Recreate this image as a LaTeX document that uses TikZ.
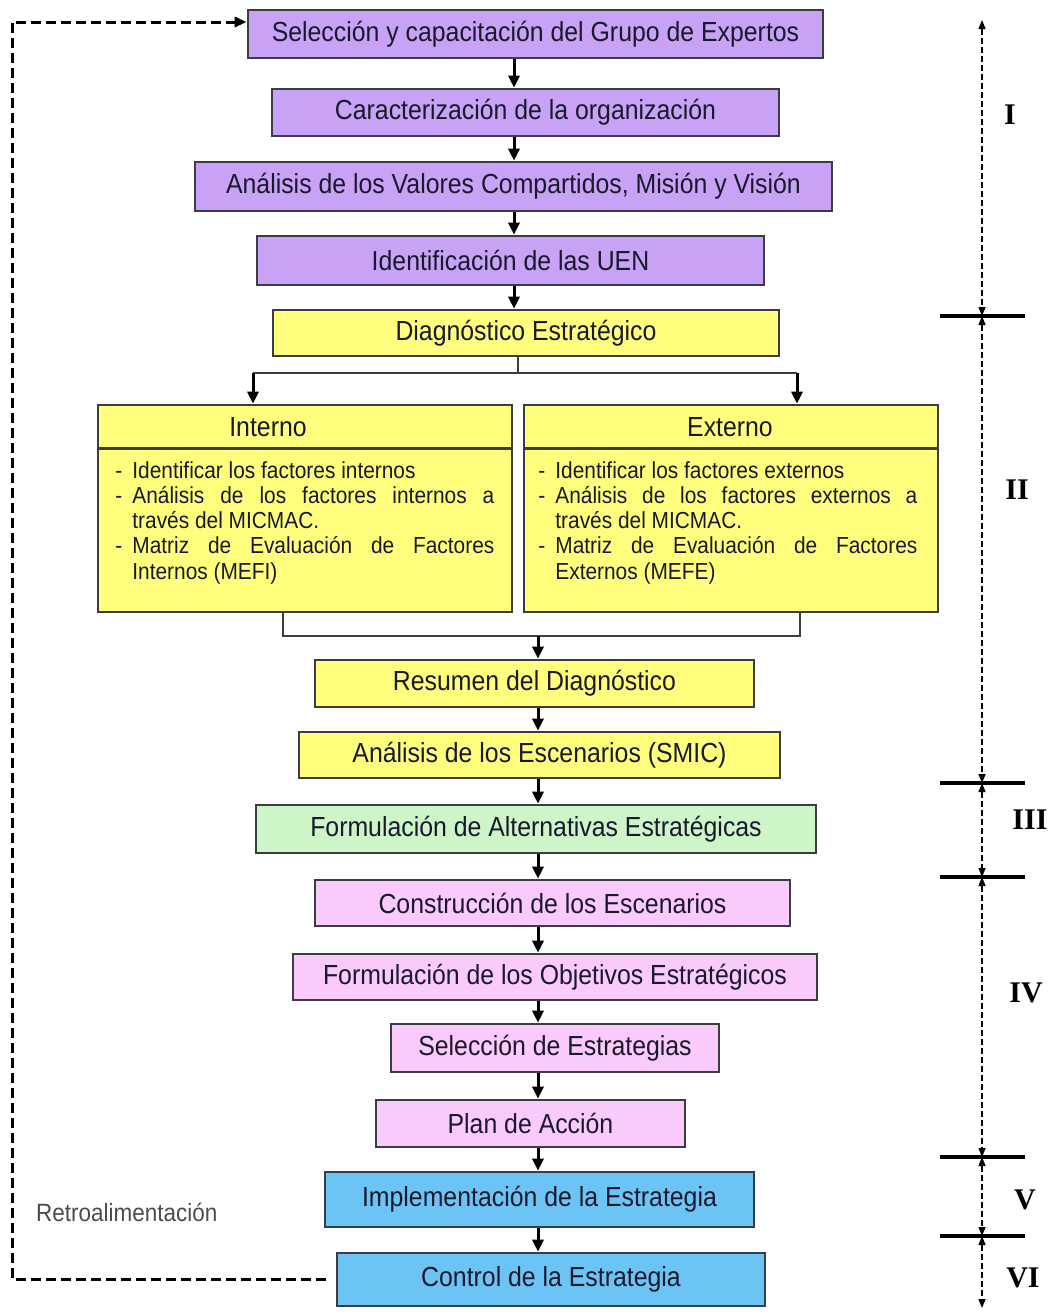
\documentclass[tikz,border=0pt]{standalone}
\usepackage{fontspec}
\setmainfont{Liberation Sans}[FakeStretch=0.9]
\newfontfamily\romfont{Liberation Serif}
\usetikzlibrary{arrows.meta,calc}

\definecolor{lila}{RGB}{200,162,245}
\definecolor{amarillo}{RGB}{255,255,125}
\definecolor{verde}{RGB}{205,245,200}
\definecolor{rosa}{RGB}{250,202,250}
\definecolor{celeste}{RGB}{108,196,245}
\definecolor{borde}{RGB}{60,60,70}
\definecolor{tinta}{RGB}{25,25,45}

% guion con sangria francesa, sin cortes de palabra
\newcommand{\guion}[1]{\noindent\hyphenpenalty=10000\relax\hangindent=8.5pt\hangafter=1\relax\makebox[8.5pt][l]{-}#1\par}

\tikzset{
  etapa/.style={draw=borde, line width=1.3pt, text=tinta, inner sep=0pt,
    font=\fontsize{13.8}{16}\selectfont},
  cuerpo/.style={text=tinta, inner sep=0pt, text width=189.5pt, align=justify,
    font=\fontsize{11.6}{12.6}\selectfont},
  flecha/.style={line width=1.5pt, -{Triangle[length=6pt,width=5.5pt]}},
  linea/.style={line width=0.9pt, draw=borde},
  retroflecha/.style={line width=1.5pt, dash pattern=on 5pt off 2.5pt,
    -{Triangle[length=6pt,width=5pt]}},
  cota/.style={line width=0.7pt, dash pattern=on 3pt off 1.5pt,
    {Triangle[length=4.5pt,width=3.5pt]}-{Triangle[length=4.5pt,width=3.5pt]}},
  marca/.style={line width=2pt},
  romano/.style={font=\romfont\bfseries\fontsize{15}{16}\selectfont}
}

\begin{document}
\begin{tikzpicture}[x=0.5pt, y=-0.5pt]
\useasboundingbox (0,0) rectangle (1049,1314);

% etapas
\node[etapa, fill=lila, minimum width=287.5pt, minimum height=24pt] (sel) at (535.5,34) {Selección y capacitación del Grupo de Expertos};
\node[etapa, fill=lila, minimum width=253.5pt, minimum height=23.5pt] (car) at (525.5,112.5) {Caracterización de la organización};
\node[etapa, fill=lila, minimum width=318.5pt, minimum height=24.5pt] (val) at (513.5,186.5) {Análisis de los Valores Compartidos, Misión y Visión};
\node[etapa, fill=lila, minimum width=253.5pt, minimum height=24.5pt] (uen) at (510.5,260.5) {Identificación de las UEN};
\node[etapa, fill=amarillo, minimum width=253pt, minimum height=23pt] (diag) at (526,333) {Diagnóstico Estratégico};

\node[etapa, fill=amarillo, minimum width=207pt, minimum height=103.5pt] (int) at (305,508.5) {};
\node[etapa, fill=amarillo, minimum width=207pt, minimum height=103.5pt] (ext) at (731,508.5) {};
\draw[linea, line width=1.3pt] ([yshift=-22.5pt]int.north west) -- ([yshift=-22.5pt]int.north east);
\draw[linea, line width=1.3pt] ([yshift=-22.5pt]ext.north west) -- ([yshift=-22.5pt]ext.north east);
\node[etapa, draw=none] (intT) at (268,427) {Interno};
\node[etapa, draw=none] (extT) at (730,427) {Externo};
\node[cuerpo, anchor=north west] (intC) at (115,461) {\guion{Identificar los factores internos}\guion{Análisis de los factores internos a través del MICMAC.}\guion{Matriz de Evaluación de Factores Internos (MEFI)}};
\node[cuerpo, anchor=north west] (extC) at (538,461) {\guion{Identificar los factores externos}\guion{Análisis de los factores externos a través del MICMAC.}\guion{Matriz de Evaluación de Factores Externos (MEFE)}};

\node[etapa, fill=amarillo, minimum width=219.5pt, minimum height=23.5pt] (res) at (534.5,683.5) {Resumen del Diagnóstico};
\node[etapa, fill=amarillo, minimum width=240.5pt, minimum height=23pt] (smic) at (539.5,755) {Análisis de los Escenarios (SMIC)};
\node[etapa, fill=verde, minimum width=280pt, minimum height=24pt] (alt) at (536,829) {Formulación de Alternativas Estratégicas};
\node[etapa, fill=rosa, minimum width=237.5pt, minimum height=23pt] (cons) at (552.5,903) {Construcción de los Escenarios};
\node[etapa, fill=rosa, minimum width=262pt, minimum height=23pt] (obj) at (555,977) {Formulación de los Objetivos Estratégicos};
\node[etapa, fill=rosa, minimum width=164pt, minimum height=24pt] (est) at (555,1048) {Selección de Estrategias};
\node[etapa, fill=rosa, minimum width=154.5pt, minimum height=23.5pt] (plan) at (530.5,1123.5) {Plan de Acción};
\node[etapa, fill=celeste, minimum width=214.5pt, minimum height=27.5pt] (impl) at (539.5,1199.5) {Implementación de la Estrategia};
\node[etapa, fill=celeste, minimum width=214pt, minimum height=26.5pt] (ctrl) at (551,1279.5) {Control de la Estrategia};

% flechas del flujo
\coordinate (ejeA) at (514,0);
\coordinate (ejeB) at (538,0);
\foreach \a/\b in {sel/car, car/val, val/uen, uen/diag}
  \draw[flecha] (\a.south -| ejeA) -- (\b.north -| ejeA);
\foreach \a/\b in {res/smic, smic/alt, alt/cons, cons/obj, obj/est, est/plan, plan/impl, impl/ctrl}
  \draw[flecha] (\a.south -| ejeB) -- (\b.north -| ejeB);

% bifurcacion y union
\coordinate (rama) at (518,373);
\coordinate (ramaI) at (253,373);
\coordinate (ramaE) at (797,373);
\draw[linea] (diag.south -| rama) -- (rama);
\draw[linea, line width=1.2pt] (ramaI) -- (ramaE);
\draw[flecha] (ramaI) -- (int.north -| ramaI);
\draw[flecha] (ramaE) -- (ext.north -| ramaE);
\coordinate (unionI) at (283,636);
\coordinate (unionE) at (800,636);
\draw[linea] (int.south -| unionI) |- (unionE) -- (ext.south -| unionE);
\draw[flecha] (unionI -| ejeB) -- (res.north -| ejeB);

% retroalimentacion
\coordinate (retro) at (12,22);
\draw[retroflecha] ([xshift=-5pt]ctrl.west) -| (retro) -- ([yshift=6pt]sel.west);
\node[anchor=west, text=black!70, font=\fontsize{12.5}{14}\selectfont] (lblretro) at (29,1212) {Retroalimentación};

% escala de fases
\foreach \y [count=\i from 0] in {20,316,783,877,1157,1236,1308}
  \coordinate (m\i) at (982,\y);
\foreach \a/\b in {0/1, 1/2, 2/3, 3/4, 4/5, 5/6}
  \draw[cota] (m\a) -- (m\b);
\foreach \i in {1,...,5}
  \draw[marca] ([xshift=-21pt]m\i) -- ([xshift=21.5pt]m\i);
\node[romano] (fI) at (1010,115) {I};
\node[romano] (fII) at (1017,490) {II};
\node[romano] (fIII) at (1030,820) {III};
\node[romano] (fIV) at (1026,993) {IV};
\node[romano] (fV) at (1025,1200) {V};
\node[romano] (fVI) at (1023,1278) {VI};
\end{tikzpicture}
\end{document}
